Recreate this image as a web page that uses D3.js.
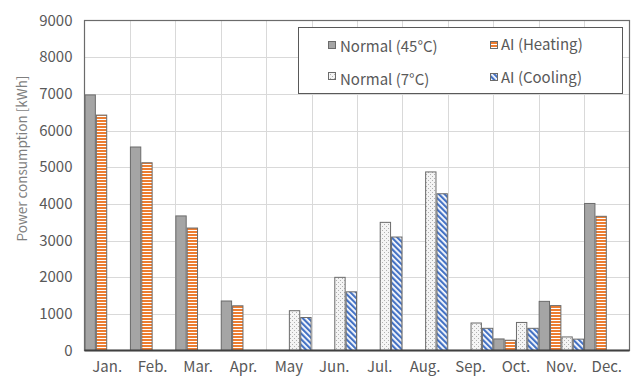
<!DOCTYPE html>
<html>
<head>
<meta charset="utf-8">
<script src="https://cdn.jsdelivr.net/npm/d3@7/dist/d3.min.js"></script>
<style>
  html, body { margin: 0; padding: 0; background: #fff; }
  svg { display: block; font-family: "Noto Sans CJK JP", "Noto Sans", sans-serif; }
</style>
</head>
<body>
<svg id="chart" width="637" height="376"></svg>
<script>
// Monthly power consumption, kWh
const months = ["Jan.", "Feb.", "Mar.", "Apr.", "May", "Jun.", "Jul.", "Aug.", "Sep.", "Oct.", "Nov.", "Dec."];
const seriesNames = ["Normal (45°C)", "AI (Heating)", "Normal (7°C)", "AI (Cooling)"];
const normal45 = [6970, 5550, 3670, 1350, 0, 0, 0, 0, 0, 315, 1340, 4010];
const aiHeating = [6420, 5120, 3340, 1220, 0, 0, 0, 0, 0, 280, 1225, 3660];
const normal7 = [0, 0, 0, 0, 1085, 1995, 3495, 4870, 750, 765, 370, 0];
const aiCooling = [0, 0, 0, 0, 900, 1600, 3095, 4275, 605, 605, 310, 0];
const yTicks = [0, 1000, 2000, 3000, 4000, 5000, 6000, 7000, 8000, 9000];

const seriesValues = [normal45, aiHeating, normal7, aiCooling];
const seriesFills = ["#a5a5a5", "url(#pat-heat)", "url(#pat-dots)", "url(#pat-cool)"];
const textColor = "#595959";

const svg = d3.select("#chart");
const plot = { left: 84.5, right: 629.5, top: 20.5, bottom: 350.5 };

// Fill patterns
const defs = svg.append("defs");
const heat = defs.append("pattern").attr("id", "pat-heat")
  .attr("patternUnits", "userSpaceOnUse").attr("width", 6).attr("height", 3);
heat.append("rect").attr("width", 6).attr("height", 3).attr("fill", "#fff");
heat.append("rect").attr("width", 6).attr("height", 2).attr("fill", "#ed7d31");

const cool = defs.append("pattern").attr("id", "pat-cool")
  .attr("patternUnits", "userSpaceOnUse").attr("width", 4).attr("height", 4)
  .attr("patternTransform", "rotate(-45)");
cool.append("rect").attr("width", 4).attr("height", 4).attr("fill", "#fff");
cool.append("rect").attr("width", 2.2).attr("height", 4).attr("fill", "#4472c4");

const dots = defs.append("pattern").attr("id", "pat-dots")
  .attr("patternUnits", "userSpaceOnUse").attr("width", 4).attr("height", 4);
dots.append("rect").attr("width", 4).attr("height", 4).attr("fill", "#f4f4f4");
dots.append("rect").attr("x", 0).attr("y", 0).attr("width", 1).attr("height", 1).attr("fill", "#b0b0b0");
dots.append("rect").attr("x", 2).attr("y", 2).attr("width", 1).attr("height", 1).attr("fill", "#b0b0b0");

// Scales
const x = d3.scaleBand().domain(months).range([plot.left, plot.right]).padding(0);
const xs = d3.scaleBand().domain(d3.range(seriesNames.length)).range([0, x.bandwidth()]).padding(0);
const y = d3.scaleLinear().domain([0, 9000]).range([plot.bottom, plot.top]);

// Gridlines
const grid = svg.append("g");
grid.selectAll("line.h").data(yTicks.filter(t => t > 0 && t < 9000)).join("line")
  .attr("x1", plot.left).attr("x2", plot.right)
  .attr("y1", d => Math.round(y(d)) + 0.5).attr("y2", d => Math.round(y(d)) + 0.5)
  .attr("stroke", "#d9d9d9").attr("stroke-width", 1);
grid.selectAll("line.v").data(months.slice(1)).join("line")
  .attr("x1", d => Math.round(x(d)) + 0.5).attr("x2", d => Math.round(x(d)) + 0.5)
  .attr("y1", plot.top).attr("y2", plot.bottom)
  .attr("stroke", "#d9d9d9").attr("stroke-width", 1);

// Bars
const barData = [];
months.forEach((m, i) => seriesValues.forEach((vals, s) => {
  if (vals[i] > 0) barData.push({ m, s, v: vals[i] });
}));
svg.append("g").selectAll("rect").data(barData).join("rect")
  .attr("x", d => x(d.m) + xs(d.s) + 0.5)
  .attr("width", xs.bandwidth() - 1)
  .attr("y", d => y(d.v))
  .attr("height", d => y(0) - y(d.v))
  .attr("fill", d => seriesFills[d.s])
  .attr("stroke", "#6b6b6b").attr("stroke-width", 1);

// Plot border
svg.append("rect").attr("x", plot.left).attr("y", plot.top)
  .attr("width", plot.right - plot.left).attr("height", plot.bottom - plot.top)
  .attr("fill", "none").attr("stroke", "#6b6b6b").attr("stroke-width", 1.2);
svg.append("line").attr("x1", plot.left).attr("x2", plot.right)
  .attr("y1", plot.bottom).attr("y2", plot.bottom)
  .attr("stroke", "#404040").attr("stroke-width", 2);

// Y axis labels
const yAxis = d3.axisLeft(y).tickValues(yTicks).tickFormat(d3.format("d"))
  .tickSize(0).tickPadding(12);
const yg = svg.append("g").attr("transform", `translate(${plot.left},0)`).call(yAxis);
yg.select(".domain").remove();
yg.selectAll("text").attr("fill", textColor).style("font-size", "15px")
  .style("font-family", "'Noto Sans CJK JP', sans-serif");

// X axis labels
const xAxis = d3.axisBottom(x).tickSize(0).tickPadding(0);
const xg = svg.append("g").attr("transform", `translate(0,${plot.bottom})`).call(xAxis);
xg.select(".domain").remove();
xg.selectAll("text").attr("fill", textColor).attr("dy", null).attr("y", 21.5)
  .style("font-size", "15px").style("font-family", "'Noto Sans CJK JP', sans-serif");

// Y axis title
svg.append("text")
  .attr("transform", `translate(27,${(plot.top + plot.bottom) / 2 - 27}) rotate(-90)`)
  .attr("text-anchor", "middle")
  .attr("fill", "#7f7f7f").style("font-size", "13.5px")
  .text("Power consumption [kWh]");

// Legend
const lg = svg.append("g");
lg.append("rect").attr("x", 298.5).attr("y", 27.5).attr("width", 324).attr("height", 66)
  .attr("fill", "#fff").attr("stroke", "#595959").attr("stroke-width", 1);
const legendPos = [
  { sx: 328, sy: 41, tx: 340, ty: 52 },
  { sx: 490, sy: 41, tx: 501, ty: 50 },
  { sx: 328, sy: 72, tx: 340, ty: 85 },
  { sx: 490, sy: 73, tx: 501, ty: 83 }
];
const items = lg.selectAll("g.item").data(seriesNames).join("g").attr("class", "item");
items.append("rect")
  .attr("x", (d, i) => legendPos[i].sx + 0.5).attr("y", (d, i) => legendPos[i].sy + 0.5)
  .attr("width", 7).attr("height", 7)
  .attr("fill", (d, i) => seriesFills[i]).attr("stroke", "#6b6b6b").attr("stroke-width", 1);
items.append("text")
  .attr("x", (d, i) => legendPos[i].tx).attr("y", (d, i) => legendPos[i].ty)
  .attr("fill", textColor).style("font-size", "15px")
  .text(d => d);
</script>
</body>
</html>
